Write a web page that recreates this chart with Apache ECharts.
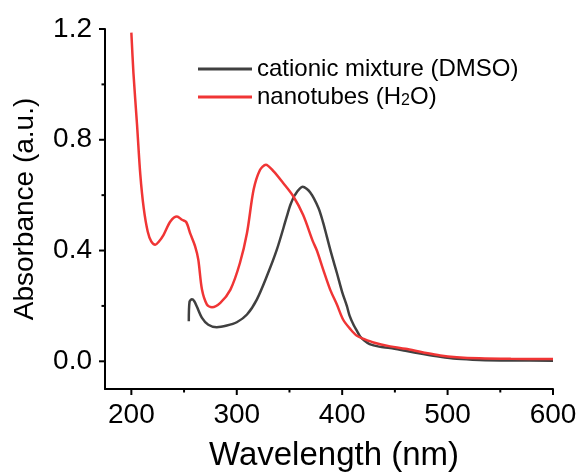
<!DOCTYPE html>
<html>
<head>
<meta charset="utf-8">
<script src="https://cdn.jsdelivr.net/npm/echarts@6/dist/echarts.min.js"></script>
<style>html,body{margin:0;padding:0;background:#fff}#c{width:582px;height:472px}</style>
</head>
<body>
<div id="c"></div>
<script>
// Data
var nanoX = [200, 202, 205.4, 208.5, 211.7, 215.5, 219, 222.7, 226, 230.6, 237, 243.3, 248, 252, 256, 260.5, 263.5, 267, 271.7, 276.5, 284.4, 294, 303, 309.7, 316, 322, 327.6, 335, 344, 353.6, 363, 372, 376, 382, 388.6, 395, 401, 408, 414, 421, 429.7, 445.5, 460, 477, 493, 508.6, 530, 560, 600];
var nanoY = [1.187, 1.04, 0.854, 0.674, 0.554, 0.469, 0.432, 0.421, 0.432, 0.457, 0.505, 0.523, 0.511, 0.503, 0.46, 0.415, 0.367, 0.259, 0.205, 0.195, 0.211, 0.259, 0.355, 0.463, 0.62, 0.691, 0.710, 0.686, 0.644, 0.596, 0.528, 0.435, 0.40, 0.331, 0.259, 0.205, 0.150, 0.115, 0.092, 0.080, 0.068, 0.054, 0.045, 0.032, 0.021, 0.015, 0.011, 0.009, 0.008];
var cationX = [254.5, 255.2, 257.5, 259.7, 262, 267, 273, 281, 290.6, 300, 309.7, 319, 328.5, 338, 347.5, 351, 355.4, 362.5, 369.7, 377.5, 382, 385.4, 390, 395, 400, 404.5, 407, 411, 414, 417, 421, 426, 435, 445.5, 460, 477, 493, 508.6, 530, 560, 600];
var cationY = [0.145, 0.215, 0.224, 0.217, 0.199, 0.157, 0.132, 0.123, 0.129, 0.141, 0.169, 0.223, 0.307, 0.403, 0.523, 0.566, 0.602, 0.630, 0.610, 0.554, 0.50, 0.451, 0.385, 0.319, 0.25, 0.199, 0.165, 0.130, 0.110, 0.090, 0.075, 0.062, 0.053, 0.048, 0.038, 0.026, 0.016, 0.009, 0.005, 0.003, 0.002];
var xMajor = [200, 300, 400, 500, 600];
var xMinor = [250, 350, 450, 550];
var yMajor = [0, 0.4, 0.8, 1.2];
var yMinor = [0.2, 0.6, 1.0];
var seriesNames = ['cationic mixture (DMSO)', 'nanotubes (H2O)'];

function zip(a, b) { return a.map(function (v, i) { return [v, b[i]]; }); }

var FONT = 'Liberation Sans, Arial, sans-serif';
var chart = echarts.init(document.getElementById('c'), null, {renderer: 'canvas'});
var X_MIN = 175, X_MAX = 600, Y_MIN = -0.1, Y_MAX = 1.2;

// custom series that draws outward axis ticks through the axes' scales
function tickSeries(vals, len, isX) {
  return {
    type: 'custom', silent: true, clip: false, z: 10, legendHoverLink: false,
    data: vals.map(function (v) { return isX ? [v, Y_MIN] : [X_MIN, v]; }),
    renderItem: function (params, api) {
      var p = api.coord([api.value(0), api.value(1)]);
      var shape = isX ? {x1: p[0], y1: p[1], x2: p[0], y2: p[1] + len}
                      : {x1: p[0], y1: p[1], x2: p[0] - len, y2: p[1]};
      return {type: 'line', shape: shape, style: {stroke: '#000', lineWidth: 2}};
    }
  };
}

chart.setOption({
  animation: false,
  backgroundColor: '#fff',
  grid: {left: 105, right: 29, top: 29, bottom: 83, containLabel: false, outerBoundsMode: 'none'},
  legend: {
    orient: 'vertical', left: 198, top: 57, padding: 0,
    itemWidth: 54, itemHeight: 3, itemGap: 4, icon: 'rect',
    textStyle: {fontFamily: FONT, fontSize: 24, color: '#000', lineHeight: 24,
      rich: {
        n: {fontFamily: FONT, fontSize: 24, color: '#000', lineHeight: 24, verticalAlign: 'bottom'},
        s: {fontFamily: FONT, fontSize: 16, color: '#000', lineHeight: 8, verticalAlign: 'bottom'}
      }},
    formatter: function (name) {
      if (name === seriesNames[1]) return '{n|nanotubes (H}{s|2}{n|O)}';
      return name;
    },
    data: seriesNames
  },
  xAxis: [{
    type: 'value', min: X_MIN, max: X_MAX,
    name: 'Wavelength (nm)', nameLocation: 'middle', nameGap: 50, nameMoveOverlap: false,
    nameTextStyle: {fontFamily: FONT, fontSize: 33, color: '#000', padding: [0, 0, 0, 10]},
    axisLine: {show: true, onZero: false, lineStyle: {color: '#000', width: 2}},
    axisTick: {show: false},
    axisLabel: {fontFamily: FONT, fontSize: 28, color: '#000', margin: 12, customValues: xMajor},
    splitLine: {show: false}
  }],
  yAxis: [{
    type: 'value', min: Y_MIN, max: Y_MAX,
    name: 'Absorbance (a.u.)', nameLocation: 'middle', nameGap: 66, nameMoveOverlap: false,
    nameTextStyle: {fontFamily: FONT, fontSize: 28, color: '#000'},
    axisLine: {show: true, onZero: false, lineStyle: {color: '#000', width: 2}},
    axisTick: {show: false},
    axisLabel: {fontFamily: FONT, fontSize: 28, color: '#000', margin: 13, customValues: yMajor,
      formatter: function (v) { return v.toFixed(1); }},
    splitLine: {show: false}
  }],
  series: [{
    name: seriesNames[0], type: 'line', showSymbol: false, symbol: 'none', smooth: 0.3,
    data: zip(cationX, cationY),
    lineStyle: {color: '#404040', width: 2.5}, itemStyle: {color: '#404040'}, z: 2
  }, {
    name: seriesNames[1], type: 'line', showSymbol: false, symbol: 'none', smooth: 0.3,
    data: zip(nanoX, nanoY),
    lineStyle: {color: '#f03535', width: 2.5}, itemStyle: {color: '#f03535'}, z: 3
  },
  tickSeries(xMajor, 6, true), tickSeries(xMinor, 3.5, true),
  tickSeries(yMajor, 6, false), tickSeries(yMinor, 3.5, false)]
});
</script>
</body>
</html>
